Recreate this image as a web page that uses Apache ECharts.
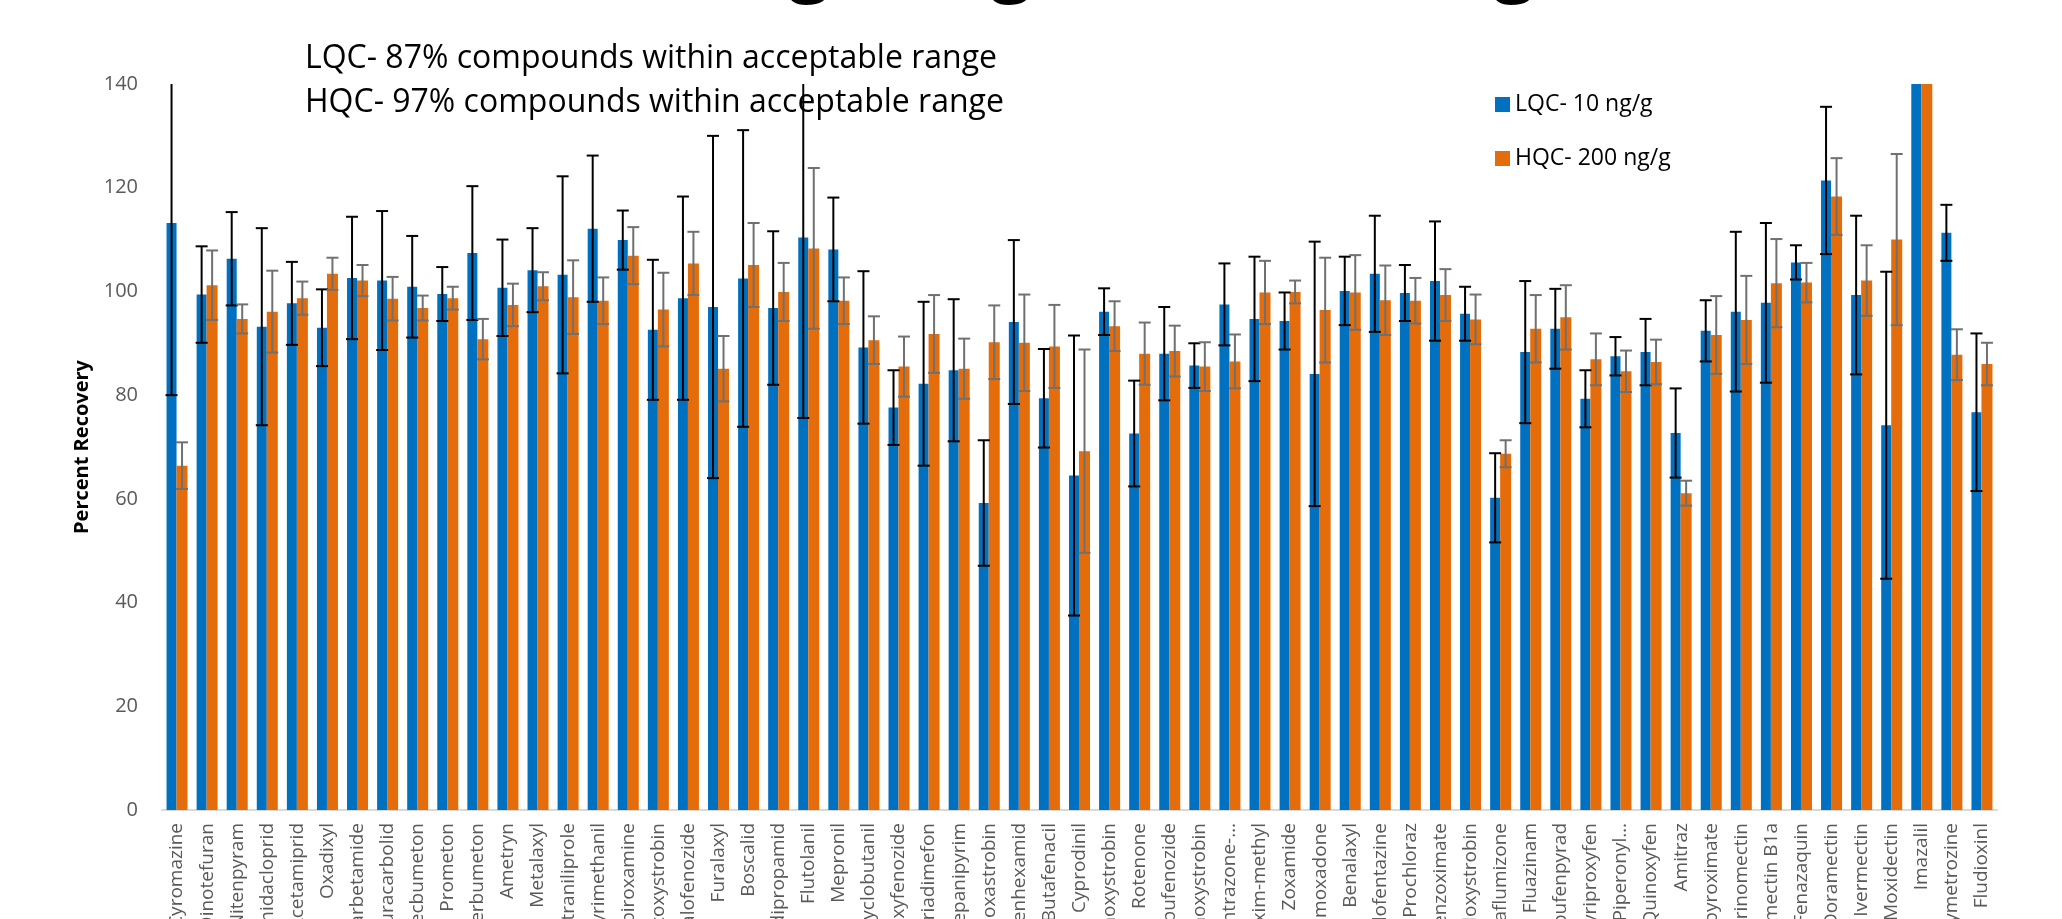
<!DOCTYPE html>
<html>
<head>
<meta charset="utf-8">
<script src="https://cdn.jsdelivr.net/npm/echarts@6/dist/echarts.min.js"></script>
<style>
  html, body { margin: 0; padding: 0; background: #fff; }
  #chart { width: 2062px; height: 919px; }
</style>
</head>
<body>
<div id="chart"></div>
<script>
var compounds = [
  "Cyromazine", "Dinotefuran", "Nitenpyram", "Imidacloprid", "Acetamiprid", "Oxadixyl",
  "Carbetamide", "Furacarbolid", "Secbumeton", "Prometon", "Terbumeton", "Ametryn",
  "Metalaxyl", "Chlorantraniliprole", "Pyrimethanil", "Spiroxamine", "Picoxystrobin",
  "Halofenozide", "Furalaxyl", "Boscalid", "Mandipropamid", "Flutolanil", "Mepronil",
  "Myclobutanil", "Methoxyfenozide", "Triadimefon", "Mepanipyrim", "Fluoxastrobin",
  "Fenhexamid", "Butafenacil", "Cyprodinil", "Dimoxystrobin", "Rotenone", "Tebufenozide",
  "Coumoxystrobin", "Carfentrazone-…", "Kresoxim-methyl", "Zoxamide", "Famoxadone",
  "Benalaxyl", "Clofentazine", "Prochloraz", "Benzoximate", "Trifloxystrobin",
  "Metaflumizone", "Fluazinam", "Tebufenpyrad", "Pyriproxyfen", "Piperonyl…", "Quinoxyfen",
  "Amitraz", "Fenpyroximate", "Eprinomectin", "Avermectin B1a", "Fenazaquin", "Doramectin",
  "Ivermectin", "Moxidectin", "Imazalil", "Pymetrozine", "Fludioxinl"
];

// LQC- 10 ng/g : mean recovery and error (+/-)
var lqc = [113.2, 99.4, 106.3, 93.2, 97.7, 93.0, 102.6, 102.1, 100.9, 99.5,
  107.4, 100.7, 104.1, 103.2, 112.1, 109.9, 92.6, 98.7, 97.0, 102.5,
  96.8, 110.4, 108.1, 89.2, 77.6, 82.2, 84.8, 59.2, 94.1, 79.4,
  64.5, 96.1, 72.6, 88.0, 85.7, 97.5, 94.7, 94.3, 84.1, 100.1,
  103.4, 99.7, 102.0, 95.7, 60.2, 88.3, 92.8, 79.3, 87.5, 88.3,
  72.7, 92.4, 96.1, 97.8, 105.6, 121.4, 99.3, 74.2, 160, 111.3, 76.7];
var lqcErr = [33.2, 9.3, 9.0, 19.0, 8.0, 7.4, 11.8, 13.4, 9.8, 5.2,
  12.9, 9.3, 8.1, 19.0, 14.1, 5.7, 13.5, 19.6, 33.0, 28.6,
  14.8, 34.8, 10.0, 14.7, 7.2, 15.8, 13.7, 12.1, 15.8, 9.5,
  27.0, 4.5, 10.2, 9.0, 4.3, 7.9, 12.0, 5.5, 25.5, 6.6,
  11.2, 5.4, 11.5, 5.2, 8.6, 13.7, 7.7, 5.5, 3.7, 6.4,
  8.6, 5.9, 15.4, 15.4, 3.3, 14.2, 15.3, 29.6, null, 5.4, 15.2];

// HQC- 200 ng/g
var hqc = [66.4, 101.2, 94.7, 96.1, 98.7, 103.4, 102.1, 98.6, 96.8, 98.7,
  90.8, 97.4, 101.0, 98.9, 98.2, 106.9, 96.5, 105.4, 85.1, 105.1,
  99.9, 108.3, 98.2, 90.6, 85.5, 91.8, 85.1, 90.2, 90.1, 89.4,
  69.2, 93.3, 88.0, 88.5, 85.5, 86.5, 99.8, 99.9, 96.4, 99.8,
  98.3, 98.2, 99.3, 94.6, 68.7, 92.8, 95.0, 86.9, 84.6, 86.4,
  61.1, 91.6, 94.5, 101.6, 101.7, 118.3, 102.1, 110.0, 160, 87.8, 86.0];
var hqcErr = [4.5, 6.7, 2.8, 7.9, 3.2, 3.1, 3.0, 4.2, 2.4, 2.2,
  3.9, 4.1, 2.7, 7.1, 4.5, 5.5, 7.1, 6.1, 6.3, 8.1,
  5.6, 15.5, 4.5, 4.6, 5.8, 7.5, 5.8, 7.1, 9.3, 8.0,
  19.6, 4.8, 6.0, 4.9, 4.7, 5.2, 6.1, 2.2, 10.1, 7.2,
  6.7, 4.4, 5.0, 4.8, 2.6, 6.5, 6.2, 5.0, 4.0, 4.3,
  2.4, 7.5, 8.5, 8.5, 3.8, 7.4, 6.8, 16.5, null, 4.9, 4.1];

var yTicks = [0, 20, 40, 60, 80, 100, 120, 140];
var notes = ["LQC- 87% compounds within acceptable range", "HQC- 97% compounds within acceptable range"];

var Y_MAX = 140;
var FONT = "'Open Sans', 'Noto Sans', sans-serif";

function errData(mean, err) {
  var out = [];
  mean.forEach(function (v, i) {
    if (err[i] == null) return;
    out.push([i, v - err[i], v + err[i]]);
  });
  return out;
}

function errRender(offset, color) {
  return function (params, api) {
    var i = api.value(0);
    var lo = api.value(1), hi = api.value(2);
    var x = api.coord([i, 0])[0] + offset;
    var yl = api.coord([i, lo])[1];
    var yh = api.coord([i, Math.min(hi, Y_MAX)])[1];
    var st = { stroke: color, lineWidth: 2 };
    var kids = [
      { type: "line", shape: { x1: x, y1: yl, x2: x, y2: yh }, style: st },
      { type: "line", shape: { x1: x - 6, y1: yl, x2: x + 6, y2: yl }, style: st }
    ];
    if (hi <= Y_MAX) {
      kids.push({ type: "line", shape: { x1: x - 6, y1: yh, x2: x + 6, y2: yh }, style: st });
    }
    return { type: "group", children: kids };
  };
}

var myChart = echarts.init(document.getElementById("chart"));

var option = {
  backgroundColor: "#fff",
  animation: false,
  textStyle: { fontFamily: FONT },
  title: {
    text: notes.join("\n"),
    left: 300,
    top: 32,
    textStyle: { fontSize: 32, lineHeight: 44, fontWeight: "normal", color: "#000", fontFamily: FONT }
  },
  // descenders of the slide heading, cut off at the top edge
  graphic: [
    { type: "text", left: 789, top: -69, style: { text: "g", fontSize: 72, fontWeight: "bold", fill: "#000", fontFamily: FONT } },
    { type: "text", left: 991, top: -69, style: { text: "g", fontSize: 72, fontWeight: "bold", fill: "#000", fontFamily: FONT } },
    { type: "text", left: 1494, top: -69, style: { text: "g", fontSize: 72, fontWeight: "bold", fill: "#000", fontFamily: FONT } }
  ],
  legend: {
    data: ["LQC- 10 ng/g", "HQC- 200 ng/g"],
    orient: "vertical",
    left: 1490,
    top: 88,
    itemGap: 31,
    itemWidth: 15,
    itemHeight: 15,
    icon: "rect",
    textStyle: { fontSize: 23, color: "#000", fontFamily: FONT }
  },
  grid: { left: 162, right: 65, top: 84, bottom: 109, containLabel: false, outerBoundsMode: "none" },
  xAxis: {
    type: "category",
    data: compounds,
    axisLine: { lineStyle: { color: "#d9d9d9", width: 2 } },
    axisTick: { show: false },
    axisLabel: {
      interval: 0,
      rotate: 90,
      margin: 13,
      fontSize: 19,
      color: "#595959",
      fontFamily: FONT
    }
  },
  yAxis: {
    type: "value",
    min: 0,
    max: Y_MAX,
    interval: 20,
    name: "Percent Recovery",
    nameLocation: "middle",
    nameGap: 70,
    nameTextStyle: { fontSize: 20, fontWeight: "bold", color: "#000", fontFamily: FONT },
    axisLine: { show: false },
    axisTick: { show: false },
    splitLine: { show: false },
    axisLabel: {
      margin: 24,
      fontSize: 20,
      color: "#595959",
      fontFamily: FONT,
      formatter: function (v) { return yTicks.indexOf(v) >= 0 ? String(v) : ""; }
    }
  },
  series: [
    {
      name: "LQC- 10 ng/g",
      type: "bar",
      data: lqc,
      barWidth: 10,
      barGap: "0%",
      itemStyle: { color: "#0070C0" }
    },
    {
      name: "HQC- 200 ng/g",
      type: "bar",
      data: hqc,
      barWidth: 11,
      barGap: "0%",
      itemStyle: { color: "#E46C0A" }
    },
    {
      type: "custom",
      data: errData(lqc, lqcErr),
      encode: { x: 0, y: [1, 2] },
      renderItem: errRender(-5.5, "#000"),
      z: 5
    },
    {
      type: "custom",
      data: errData(hqc, hqcErr),
      encode: { x: 0, y: [1, 2] },
      renderItem: errRender(5, "#707070"),
      z: 5
    }
  ]
};

myChart.setOption(option);
</script>
</body>
</html>
